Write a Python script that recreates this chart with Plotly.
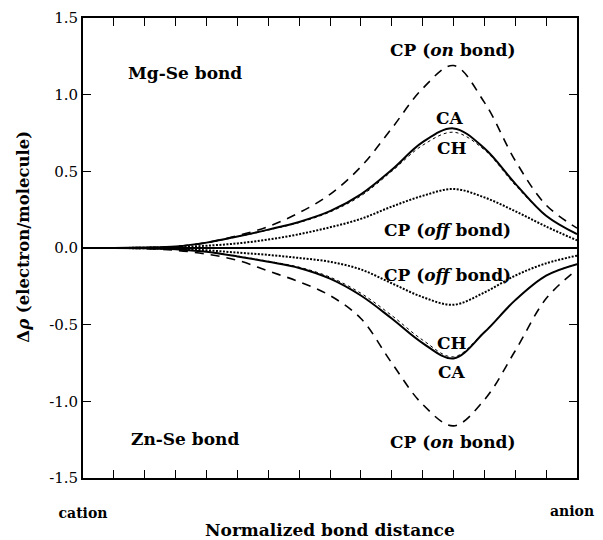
import plotly.graph_objects as go

# Normalized bond distance sample points (0 = cation, 1 = anion)
x_pos = [0, 0.0625, 0.125, 0.1875, 0.25, 0.3125, 0.375, 0.4375, 0.5,
         0.5625, 0.625, 0.6875, 0.75, 0.8125, 0.875, 0.9375, 1.0]

# Mg-Se bond (positive)
mg_cp_on = [0, 0, 0.003, 0.01, 0.035, 0.08, 0.14, 0.23, 0.35,
            0.53, 0.78, 1.04, 1.19, 0.95, 0.57, 0.28, 0.13]
mg_ca = [0, 0, 0.003, 0.01, 0.035, 0.075, 0.12, 0.17, 0.24,
         0.35, 0.51, 0.69, 0.78, 0.65, 0.42, 0.21, 0.09]
mg_ch = [0, 0, 0.003, 0.01, 0.034, 0.073, 0.117, 0.166, 0.235,
         0.34, 0.50, 0.67, 0.755, 0.64, 0.41, 0.21, 0.09]
mg_cp_off = [0, 0, 0.002, 0.006, 0.015, 0.03, 0.055, 0.09, 0.135,
             0.19, 0.27, 0.34, 0.385, 0.33, 0.24, 0.14, 0.05]

# Zn-Se bond (negative)
zn_cp_on = [0, 0, -0.004, -0.015, -0.04, -0.08, -0.15, -0.22, -0.31,
            -0.46, -0.75, -1.02, -1.16, -0.99, -0.67, -0.33, -0.14]
zn_ch = [0, 0, -0.002, -0.008, -0.025, -0.055, -0.09, -0.13, -0.2,
         -0.31, -0.46, -0.62, -0.72, -0.55, -0.34, -0.18, -0.105]
zn_ca = [0, 0, -0.002, -0.008, -0.024, -0.052, -0.086, -0.125, -0.19,
         -0.295, -0.44, -0.60, -0.71, -0.545, -0.34, -0.18, -0.105]
zn_cp_off = [0, 0, -0.002, -0.006, -0.015, -0.03, -0.045, -0.065, -0.09,
             -0.14, -0.23, -0.32, -0.37, -0.29, -0.18, -0.1, -0.05]

x_end_labels = ["cation", "anion"]
x_tick_vals = x_pos
x_tick_text = [x_end_labels[0]] + [""] * 16   # "anion" drawn as an annotation
y_tick_vals = [-1.5, -1.0, -0.5, 0.0, 0.5, 1.0, 1.5]
y_tick_text = ["-1.5", "-1.0", "-0.5", "0.0", "0.5", "1.0", "1.5"]
x_title = "Normalized bond distance"
y_title = "Δ<i>ρ</i> (electron/molecule)"

SERIF = "DejaVu Serif"
fig = go.Figure()

def add(y, dash, width, name):
    fig.add_trace(go.Scatter(x=x_pos, y=y, mode="lines", name=name,
                             line=dict(color="black", width=width, dash=dash,
                                       shape="spline", smoothing=1.0),
                             showlegend=False))

add(mg_cp_on, "9px,7px", 1.6, "Mg-Se CP (on bond)")
add(mg_ca, "solid", 2.0, "Mg-Se CA")
add(mg_ch, "dot", 1.0, "Mg-Se CH")
add(mg_cp_off, "2px,1.5px", 2.0, "Mg-Se CP (off bond)")
add(zn_cp_on, "9px,7px", 1.6, "Zn-Se CP (on bond)")
add(zn_ch, "solid", 2.0, "Zn-Se CH")
add(zn_ca, "dot", 1.0, "Zn-Se CA")
add(zn_cp_off, "2px,1.5px", 2.0, "Zn-Se CP (off bond)")

lab_font = dict(family=SERIF, size=17, color="black", weight="bold")
labels = [
    ("Mg-Se bond", 0.087, 1.14, "left"),
    ("CP (<i>on</i> bond)", 0.747, 1.29, "center"),
    ("CA", 0.743, 0.85, "center"),
    ("CH", 0.747, 0.65, "center"),
    ("CP (<i>off</i> bond)", 0.737, 0.117, "center"),
    ("CP (<i>off</i> bond)", 0.737, -0.176, "center"),
    ("CH", 0.747, -0.62, "center"),
    ("CA", 0.747, -0.81, "center"),
    ("CP (<i>on</i> bond)", 0.747, -1.265, "center"),
    ("Zn-Se bond", 0.093, -1.246, "left"),
]
for t, ax, ay, anc in labels:
    fig.add_annotation(x=ax, y=ay, text=t, showarrow=False, xanchor=anc,
                       yanchor="middle", font=lab_font)

# "anion" end label, at x = 1 but kept inside the visible window
fig.add_annotation(xref="x", yref="paper", x=1.0, y=-0.0717, text=x_end_labels[1],
                   showarrow=False, xanchor="center", yanchor="middle", xshift=-5,
                   font=dict(family=SERIF, size=14, color="black", weight="bold"))

# axis titles
fig.add_annotation(xref="paper", yref="paper", x=0.5, y=-0.113, text=x_title,
                   showarrow=False, xanchor="center", yanchor="middle",
                   font=lab_font)
fig.add_annotation(xref="paper", yref="paper", x=-0.12, y=0.524, text=y_title,
                   showarrow=False, xanchor="center", yanchor="middle",
                   textangle=-90, font=dict(family=SERIF, size=16.5, color="black",
                                            weight="bold"))

# the page body adds an 8px offset; margins put the plot area
# at x 83-577, y 18-478 of the window
fig.update_layout(
    width=603, height=540,
    margin=dict(l=75, r=34, t=10, b=70),
    plot_bgcolor="white", paper_bgcolor="white",
    font=dict(family=SERIF, color="black"),
    xaxis=dict(range=[0, 1], tickvals=x_tick_vals, ticktext=x_tick_text,
               ticks="inside", ticklen=8, tickwidth=1.3, tickcolor="black",
               showgrid=False, zeroline=False, showline=True, linecolor="black",
               linewidth=1.8, mirror="ticks", automargin=False,
               ticklabeloverflow="allow",
               tickfont=dict(family=SERIF, size=14, color="black", weight="bold"),
               ticklabelstandoff=21),
    yaxis=dict(range=[-1.5, 1.5], tickvals=y_tick_vals, ticktext=y_tick_text,
               ticks="inside", ticklen=8, tickwidth=1.3, tickcolor="black",
               showgrid=False, zeroline=True, zerolinecolor="black", zerolinewidth=2,
               showline=True, linecolor="black", linewidth=1.8, mirror="ticks",
               automargin=False,
               tickfont=dict(family=SERIF, size=15, color="black")),
)

fig.write_html("out.html")
